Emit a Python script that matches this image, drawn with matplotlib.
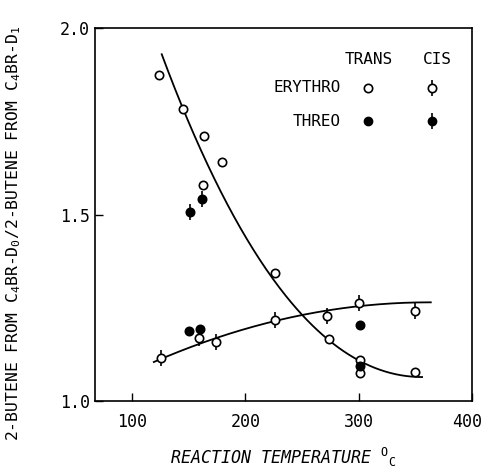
import matplotlib
matplotlib.use('Agg')
import matplotlib.pyplot as plt
import matplotlib.transforms as mtransforms
import numpy as np

plt.rcParams['font.family'] = 'DejaVu Sans Mono'
plt.rcParams['mathtext.fontset'] = 'custom'
plt.rcParams['mathtext.rm'] = 'DejaVu Sans Mono'
plt.rcParams['mathtext.it'] = 'DejaVu Sans Mono:italic'

# trans, erythro (open circles)
te_x = [124, 145, 163, 179, 162.5, 226.5, 273.7, 301, 301, 350]
te_y = [1.874, 1.782, 1.71, 1.64, 1.58, 1.344, 1.165, 1.11, 1.074, 1.079]
# cis, erythro (open circles with bar)
ce_x = [125.7, 158.7, 174, 226.5, 272, 300, 350]
ce_y = [1.116, 1.17, 1.159, 1.217, 1.228, 1.264, 1.242]
# trans, threo (filled circles)
tt_x = [150, 159.6, 301, 301]
tt_y = [1.188, 1.192, 1.205, 1.094]
# cis, threo (filled circles with bar)
ct_x = [150.7, 162]
ct_y = [1.506, 1.542]

# hand drawn curves, traced points
down_x = [126, 145, 195.6, 201.5, 248.7, 278, 307.7, 356]
down_y = [1.932, 1.78, 1.458, 1.436, 1.244, 1.146, 1.097, 1.065]
up_x = [119, 133.6, 169, 204, 226.5, 278, 301.8, 363.7]
up_y = [1.103, 1.123, 1.164, 1.201, 1.217, 1.237, 1.257, 1.266]

fig = plt.figure(figsize=(4.82, 4.69), dpi=100)
ax = fig.add_axes([0.197, 0.145, 0.782, 0.795])

xs = np.linspace(down_x[0], down_x[-1], 200)
p = np.polyfit(down_x, down_y, 3)
ax.plot(xs, np.polyval(p, xs), color='black', lw=1.3)
xs = np.linspace(up_x[0], up_x[-1], 200)
p = np.polyfit(up_x, up_y, 2)
ax.plot(xs, np.polyval(p, xs), color='black', lw=1.3)

ms = 6
bar = dict(marker='|', markersize=12, markeredgewidth=1.2, color='black', ls='none')
ax.plot(ce_x, ce_y, **bar)
ax.plot(ct_x, ct_y, **bar)
ax.plot(te_x, te_y, 'o', ms=ms, mfc='white', mec='black', mew=1.2)
ax.plot(ce_x, ce_y, 'o', ms=ms, mfc='white', mec='black', mew=1.2)
ax.plot(tt_x, tt_y, 'o', ms=ms, mfc='black', mec='black', mew=1.2)
ax.plot(ct_x, ct_y, 'o', ms=ms, mfc='black', mec='black', mew=1.2)

# key drawn by hand
tr = ax.transAxes
ax.text(0.727, 0.915, 'TRANS', transform=tr, ha='center', va='center', fontsize=11.5)
ax.text(0.907, 0.915, 'CIS', transform=tr, ha='center', va='center', fontsize=11.5)
ax.text(0.653, 0.84, 'ERYTHRO', transform=tr, ha='right', va='center', fontsize=11.5)
ax.text(0.653, 0.75, 'THREO', transform=tr, ha='right', va='center', fontsize=11.5)
ax.plot([0.725], [0.84], 'o', ms=ms, mfc='white', mec='black', mew=1.2, transform=tr)
ax.plot([0.893], [0.84], transform=tr, **bar)
ax.plot([0.893], [0.84], 'o', ms=ms, mfc='white', mec='black', mew=1.2, transform=tr)
ax.plot([0.725], [0.75], 'o', ms=ms, mfc='black', mec='black', transform=tr)
ax.plot([0.893], [0.75], transform=tr, **bar)
ax.plot([0.893], [0.75], 'o', ms=ms, mfc='black', mec='black', transform=tr)

ax.set_xlim(67, 400)
ax.set_ylim(1.0, 2.0)
ax.set_xticks([100, 200, 300, 400])
ax.set_yticks([1.0, 1.5, 2.0])
ax.set_yticklabels(['1.0', '1.5', '2.0'])
ax.tick_params(direction='in', length=6, labelsize=12, width=1)
ax.tick_params(axis='x', pad=9)
for s in ax.spines.values():
    s.set_linewidth(1.2)
last = ax.get_xticklabels()[-1]
last.set_transform(last.get_transform() +
                   mtransforms.ScaledTranslation(-0.05, 0, fig.dpi_scale_trans))

ax.set_xlabel(r'REACTION TEMPERATURE $^{\mathrm{O}}$$_{\mathrm{C}}$', fontsize=12,
              style='italic')
ax.xaxis.set_label_coords(0.5, -0.12)
ax.set_ylabel(r'2-BUTENE FROM C$_4$BR-D$_0$/2-BUTENE FROM C$_4$BR-D$_1$',
              fontsize=11.8)
ax.yaxis.set_label_coords(-0.19, 0.45)

fig.savefig('out.png', dpi=100)
